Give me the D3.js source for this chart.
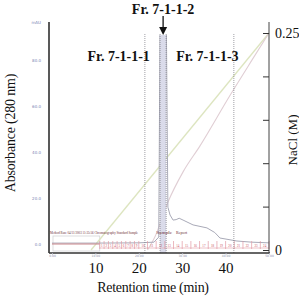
<!DOCTYPE html>
<html>
<head>
<meta charset="utf-8">
<script src="https://cdn.jsdelivr.net/npm/d3@7"></script>
<style>
  body { margin: 0; background: #fff; }
  text { font-family: "Liberation Serif", "DejaVu Serif", serif; }
</style>
</head>
<body>
<svg id="chart" width="299" height="302"></svg>
<script>
// ---- data ----
const timeTicks = [10, 20, 30, 40];
const chromTicks = [0, 10, 20, 30, 40, 50];
const absTicks = [0, 20, 40, 60, 80];
const naclTicks = [0, 0.05, 0.1, 0.15, 0.2, 0.25];

// fraction cut lines (min)
const cutTimes = [21.4, 24.9, 26.3, 41.9];
const poolBand = [24.9, 26.3];

// absorbance trace (mAU)
const absTime  = [0, 10, 20, 23.5, 24.6, 25.0, 25.6, 26.2, 26.7, 27.2, 27.9, 28.6, 29.3, 30.2, 32.5, 35.7, 37.5, 38.7, 42.6, 46, 50];
const absValue = [0.4, 0.4, 0.5, 0.8, 3, 130, 130, 130, 16, 12.6, 10.4, 10.6, 11.2, 10.4, 8.3, 7, 5, 2.6, 1.3, 0.8, 0.5];

// NaCl gradient (programmed) and measured conductivity-like trace (M)
const gradTime  = [9, 50];
const gradNaCl  = [0, 0.25];
const condTime  = [22.0, 23.7, 26.7, 30.2, 34.1, 41.0, 46.1, 50];
const condNaCl  = [0, 0.015, 0.055, 0.09, 0.12, 0.178, 0.219, 0.25];

// fraction collector marks (min)
const fracMarks = [11, 12, 13, 14, 15, 16, 17, 18, 19, 20, 22, 24, 26, 28, 30, 32, 34, 36, 38, 40, 42, 44, 46, 48, 50];

const fracNames = ["Fr. 7-1-1-1", "Fr. 7-1-1-2", "Fr. 7-1-1-3"];
const headerText = ["Method Run: 04/11/2003 11:35:56  Chromatography Standard Sample", "Sample", "Report"];

// ---- layout ----
const plot = { left: 49, right: 269, top: 22, bottom: 253 };

const x = d3.scaleLinear().domain([0, 50]).range([52, 269]);
const yA = d3.scaleLinear().domain([0, 100]).range([244, 14]);
const yN = d3.scaleLinear().domain([0, 0.25]).range([250, 33]);

const svg = d3.select("#chart");

svg.append("defs").append("clipPath").attr("id", "plotclip")
  .append("rect")
  .attr("x", plot.left).attr("y", 35)
  .attr("width", plot.right - plot.left).attr("height", plot.bottom - 35);

// light box in the corner of the original chromatogram
svg.append("rect")
  .attr("x", x(0) + 1).attr("y", 236)
  .attr("width", x(fracMarks[0]) - x(0) - 1).attr("height", 15)
  .attr("fill", "none").attr("stroke", "#d4d4d8").attr("stroke-width", 0.8);

// gradient lines
const lineN = d3.line().x(d => x(d[0])).y(d => yN(d[1]));
svg.append("path")
  .datum(d3.zip(gradTime, gradNaCl))
  .attr("fill", "none").attr("stroke", "#dde5c0").attr("stroke-width", 1.3)
  .attr("d", lineN);
svg.append("path")
  .datum(d3.zip(condTime, condNaCl))
  .attr("fill", "none").attr("stroke", "#e0ced4").attr("stroke-width", 1.1)
  .attr("d", lineN.curve(d3.curveMonotoneX));

// absorbance trace
const lineA = d3.line().x(d => x(d[0])).y(d => yA(d[1]));
svg.append("path")
  .datum(d3.zip(absTime, absValue))
  .attr("clip-path", "url(#plotclip)")
  .attr("fill", "none").attr("stroke", "#a9aab8").attr("stroke-width", 1)
  .attr("d", lineA);

// pooled fraction band (on top of the off-scale peak)
svg.append("rect")
  .attr("x", x(poolBand[0])).attr("y", 35)
  .attr("width", x(poolBand[1]) - x(poolBand[0]))
  .attr("height", plot.bottom - 35)
  .attr("fill", "#dadbea");

// red start line
svg.append("line")
  .attr("x1", x(0)).attr("x2", x(fracMarks[0]))
  .attr("y1", yA(0)).attr("y2", yA(0))
  .attr("stroke", "#c9858a").attr("stroke-width", 1);

// fraction collector row
const fr = svg.append("g").attr("class", "fractions");
fr.append("line")
  .attr("x1", x(fracMarks[0])).attr("x2", x(fracMarks[fracMarks.length - 1]))
  .attr("y1", 248).attr("y2", 248)
  .attr("stroke", "#eab4ba").attr("stroke-width", 0.8);
fr.selectAll("line.tick").data(fracMarks).join("line")
  .attr("class", "tick")
  .attr("x1", d => x(d)).attr("x2", d => x(d))
  .attr("y1", 241).attr("y2", 249)
  .attr("stroke", "#e39aa3").attr("stroke-width", 0.7);
fr.selectAll("text").data(fracMarks.slice(0, -1)).join("text")
  .attr("x", (d, i) => (x(d) + x(fracMarks[i + 1])) / 2)
  .attr("y", 247)
  .attr("text-anchor", "middle")
  .attr("font-size", 3.2)
  .attr("fill", "#c8505c")
  .text((d, i) => i + 1);

// header line of the chromatogram printout
const hx = [plot.left + 1, x(24.0), x(28.6)];
const hw = [88, 16, 11];
svg.selectAll("text.header").data(headerText).join("text")
  .attr("class", "header")
  .attr("x", (d, i) => hx[i]).attr("y", 234)
  .attr("font-size", 3.4)
  .attr("textLength", (d, i) => hw[i])
  .attr("lengthAdjust", "spacingAndGlyphs")
  .attr("fill", "#6e2e36")
  .text(d => d);

// dotted cut lines
svg.selectAll("line.cut").data(cutTimes).join("line")
  .attr("class", "cut")
  .attr("x1", d => x(d)).attr("x2", d => x(d))
  .attr("y1", 34).attr("y2", plot.bottom)
  .attr("stroke", "#76767e").attr("stroke-width", 0.7)
  .attr("stroke-dasharray", "1,1");

// frame
svg.append("line")
  .attr("x1", plot.left).attr("x2", plot.left)
  .attr("y1", plot.top).attr("y2", plot.bottom)
  .attr("stroke", "#222").attr("stroke-width", 1.5);
svg.append("line")
  .attr("x1", plot.left).attr("x2", plot.right + 1)
  .attr("y1", plot.bottom).attr("y2", plot.bottom)
  .attr("stroke", "#333").attr("stroke-width", 1.5);
svg.append("line")
  .attr("x1", plot.right).attr("x2", plot.right)
  .attr("y1", plot.top).attr("y2", plot.bottom)
  .attr("stroke", "#444").attr("stroke-width", 1);

// tiny printout axis labels (left, bottom)
const leftAxis = svg.append("g")
  .attr("transform", `translate(${41},0)`)
  .call(d3.axisLeft(yA).tickValues(absTicks).tickSize(0).tickPadding(0).tickFormat(d3.format(".1f")));
leftAxis.select(".domain").remove();
leftAxis.selectAll("text").attr("font-size", 4).attr("fill", "#7884b4").style("font-family", "DejaVu Sans, sans-serif");
svg.append("text")
  .attr("x", 41).attr("y", yA(96)).attr("dy", "0.32em")
  .attr("text-anchor", "end")
  .attr("font-size", 4).attr("fill", "#7884b4")
  .style("font-family", "DejaVu Sans, sans-serif")
  .text("mAU");

const chromAxis = svg.append("g")
  .attr("transform", `translate(0,${plot.bottom})`)
  .call(d3.axisBottom(x).tickValues(chromTicks).tickSize(1.5).tickPadding(0.5).tickFormat(d3.format(".2f")));
chromAxis.select(".domain").remove();
chromAxis.selectAll("line").attr("stroke", "#aab");
chromAxis.selectAll("text").attr("font-size", 3).attr("fill", "#8a90a8").style("font-family", "DejaVu Sans, sans-serif");

// main retention time labels
const timeAxis = svg.append("g")
  .attr("transform", `translate(0,${262})`)
  .call(d3.axisBottom(x).tickValues(timeTicks).tickSize(0).tickPadding(0));
timeAxis.select(".domain").remove();
timeAxis.selectAll("text")
  .attr("font-size", 15).attr("fill", "#111")
  .style("font-family", "Liberation Serif, DejaVu Serif, serif");

svg.append("text")
  .attr("x", 153).attr("y", 292)
  .attr("text-anchor", "middle")
  .attr("font-size", 14).attr("fill", "#111")
  .attr("letter-spacing", -0.3)
  .text("Retention time (min)");

// right NaCl axis
const rightAxis = svg.append("g")
  .attr("transform", `translate(${plot.right},0)`)
  .call(d3.axisRight(yN).tickValues(naclTicks).tickSize(-6).tickPadding(6)
    .tickFormat(d => d === 0 ? "0" : d === 0.25 ? "0.25" : ""));
rightAxis.select(".domain").remove();
rightAxis.selectAll("line").attr("stroke", "#333").attr("stroke-width", 1);
rightAxis.selectAll("text")
  .attr("font-size", 14).attr("fill", "#111")
  .style("font-family", "Liberation Serif, DejaVu Serif, serif");

svg.append("text")
  .attr("transform", `translate(${297},${140}) rotate(-90)`)
  .attr("text-anchor", "middle")
  .attr("font-size", 13).attr("fill", "#111")
  .text("NaCl (M)");

svg.append("text")
  .attr("transform", `translate(${15},${133}) rotate(-90)`)
  .attr("text-anchor", "middle")
  .attr("font-size", 14).attr("fill", "#111")
  .attr("letter-spacing", -0.2)
  .text("Absorbance (280 nm)");

// fraction labels
const midBand = (poolBand[0] + poolBand[1]) / 2;
svg.append("text")
  .attr("x", x(cutTimes[0]) + 5).attr("y", 61)
  .attr("text-anchor", "end")
  .attr("font-size", 14).attr("font-weight", "bold").attr("fill", "#111")
  .text(fracNames[0]);
svg.append("text")
  .attr("x", x(midBand)).attr("y", 14)
  .attr("text-anchor", "middle")
  .attr("font-size", 14).attr("font-weight", "bold").attr("fill", "#111")
  .text(fracNames[1]);
svg.append("text")
  .attr("x", x(cutTimes[2]) + 10).attr("y", 61)
  .attr("text-anchor", "start")
  .attr("font-size", 14).attr("font-weight", "bold").attr("fill", "#111")
  .text(fracNames[2]);

// arrow to the pooled fraction
const ax = x(midBand);
svg.append("line")
  .attr("x1", ax).attr("x2", ax).attr("y1", 16).attr("y2", 28)
  .attr("stroke", "#111").attr("stroke-width", 1.3);
svg.append("path")
  .attr("d", `M${ax - 4},27 L${ax + 4},27 L${ax},35 Z`)
  .attr("fill", "#111");
</script>
</body>
</html>
